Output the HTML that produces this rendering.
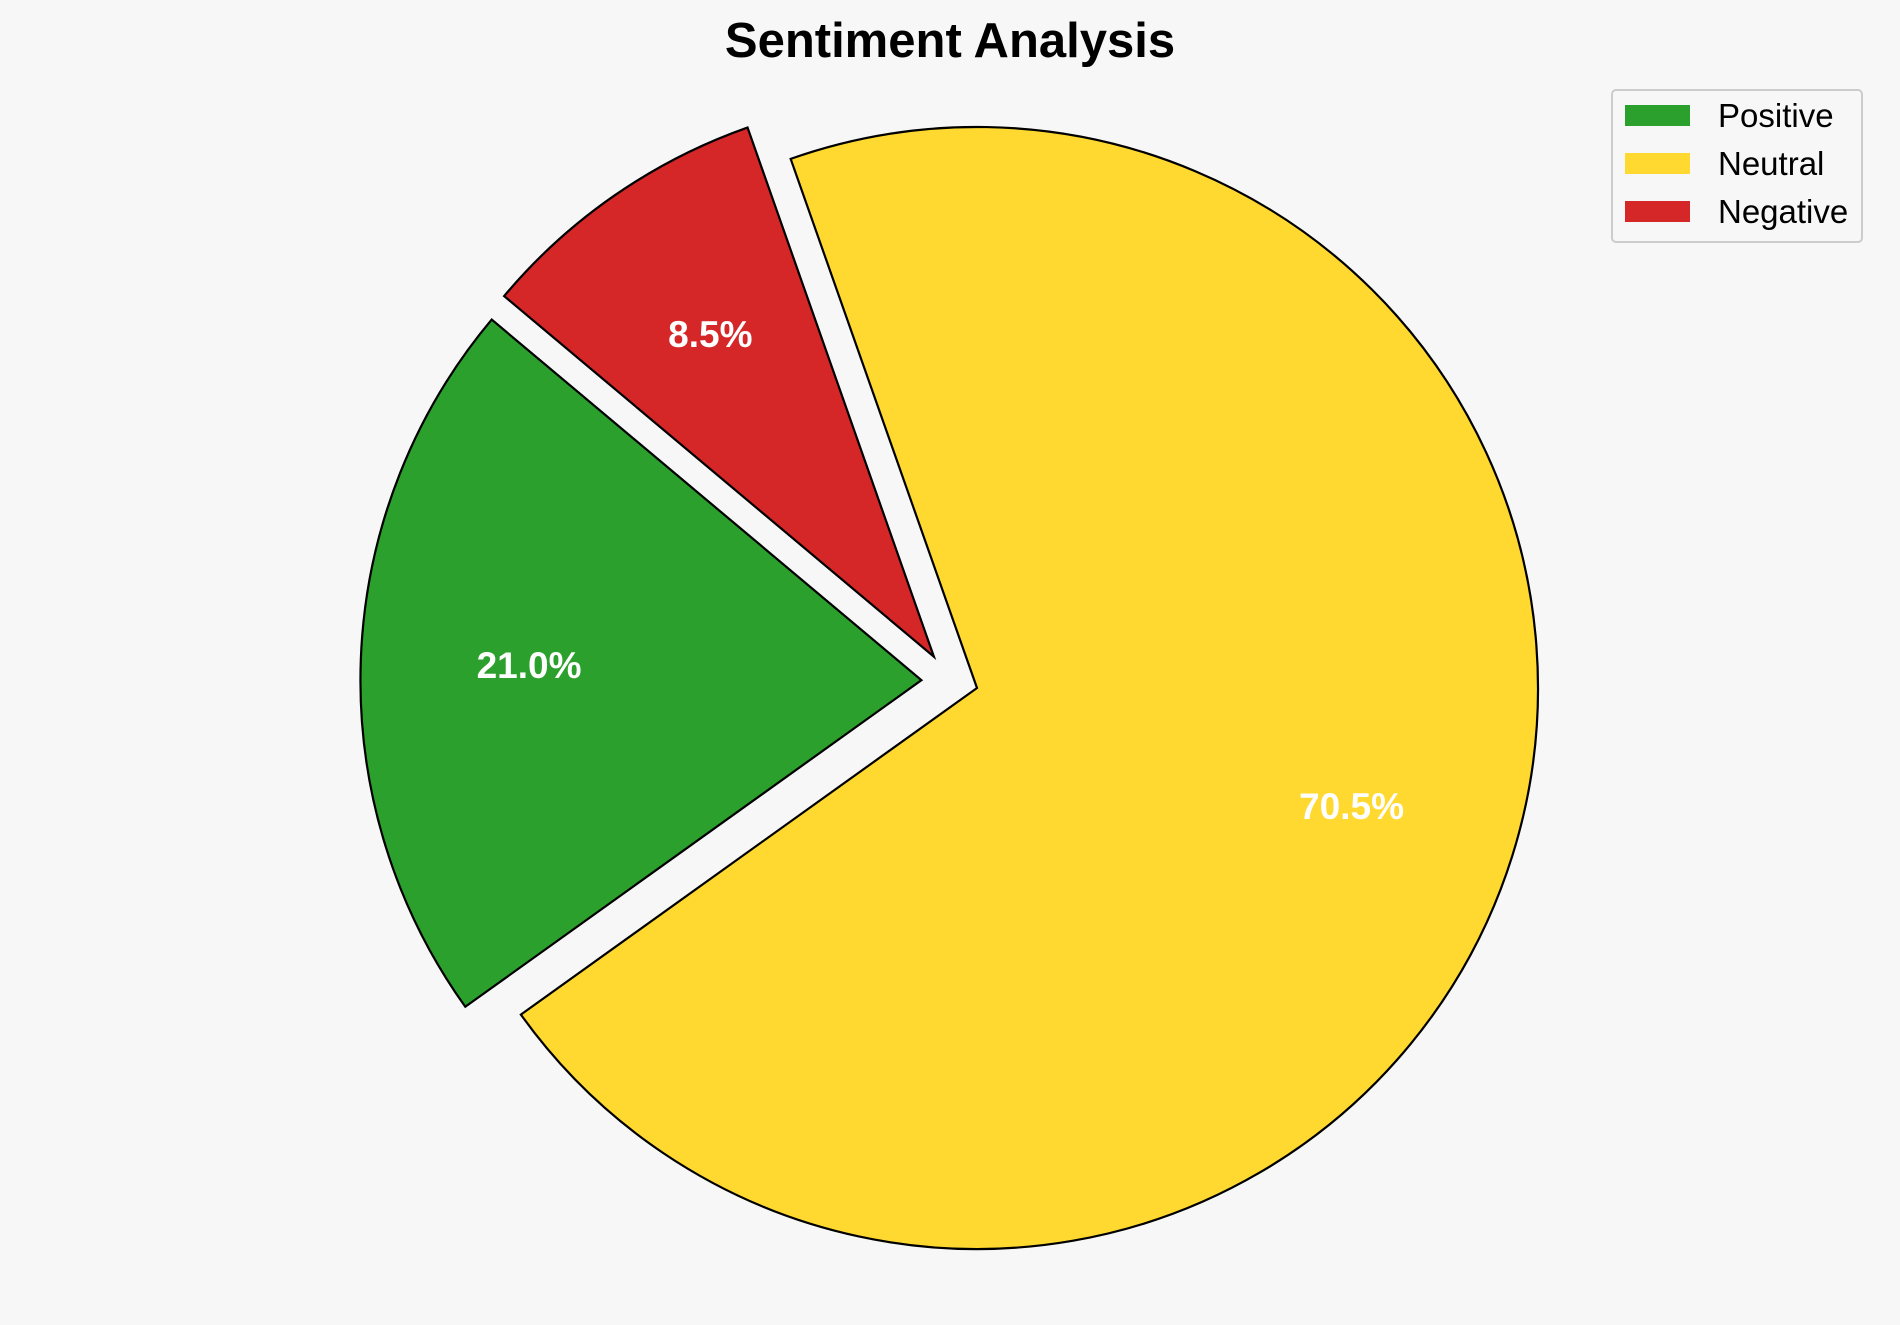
<!DOCTYPE html>
<html><head><meta charset="utf-8"><style>
body{margin:0;background:#f7f7f7;}
svg{display:block;font-family:"Liberation Sans",Arial,sans-serif;}
</style></head><body>
<svg id="chart" width="1900" height="1325" viewBox="0 0 1900 1325">
<rect width="1900" height="1325" fill="#f7f7f7"/>
<text x="950" y="57" text-anchor="middle" font-size="49" font-weight="bold" fill="#000">Sentiment Analysis</text>
<g id="slices"></g>
<g id="legend">
<rect x="1612" y="90" width="250" height="152" rx="4" fill="#f7f7f7" stroke="#ccc" stroke-width="2"/>
</g>
</svg>
<script>
const categories = ["Positive", "Neutral", "Negative"];
const values = [21.0, 70.5, 8.5];
const explode = [0.1, 0, 0.095];
const explodeDir = [172, null, 144];
const colors = ["#2ca02c", "#ffd92f", "#d62728"];
const startAngle = 140;
const cx = 977, cy = 688, R = 561;
const NS = "http://www.w3.org/2000/svg";
const g = document.getElementById('slices');
const total = values.reduce((a,b)=>a+b,0);
let a0 = startAngle;
function pt(x,y,r,deg){const t=deg*Math.PI/180;return [x+r*Math.cos(t), y-r*Math.sin(t)];}
values.forEach((v,i)=>{
  const sweep = v/total*360, a1 = a0+sweep, mid = (a0+a1)/2;
  const dir = explodeDir[i]===null ? mid : explodeDir[i];
  const [ox,oy] = pt(cx,cy,explode[i]*R,dir);
  const p0 = pt(ox,oy,R,a0), p1 = pt(ox,oy,R,a1);
  const path = document.createElementNS(NS,'path');
  path.setAttribute('d',`M${ox},${oy} L${p0[0]},${p0[1]} A${R},${R} 0 ${sweep>180?1:0} 0 ${p1[0]},${p1[1]} Z`);
  path.setAttribute('fill',colors[i]);path.setAttribute('stroke','#000');path.setAttribute('stroke-width','2.2');path.setAttribute('stroke-linejoin','miter');
  
  
  g.appendChild(path);
  const [tx,ty] = pt(ox,oy,0.7*R,mid);
  const t = document.createElementNS(NS,'text');
  t.setAttribute('x',tx);t.setAttribute('y',ty+13);t.setAttribute('text-anchor','middle');
  t.setAttribute('font-size','37');t.setAttribute('font-weight','bold');t.setAttribute('fill','#fff');
  t.textContent = v.toFixed(1)+'%';
  
  
  g.appendChild(t);
  a0 = a1;
});
const lg = document.getElementById('legend');
categories.forEach((c,i)=>{
  const y = 115 + i*48;
  const r = document.createElementNS(NS,'rect');
  r.setAttribute('x',1625);r.setAttribute('y',y-10);r.setAttribute('width',65);r.setAttribute('height',21);
  r.setAttribute('fill',colors[i]);
  
  
  lg.appendChild(r);
  const t = document.createElementNS(NS,'text');
  t.setAttribute('x',1718);t.setAttribute('y',y+12);t.setAttribute('font-size','33');t.setAttribute('fill','#000');
  t.textContent = c;
  
  
  lg.appendChild(t);
});
</script>
</body></html>
